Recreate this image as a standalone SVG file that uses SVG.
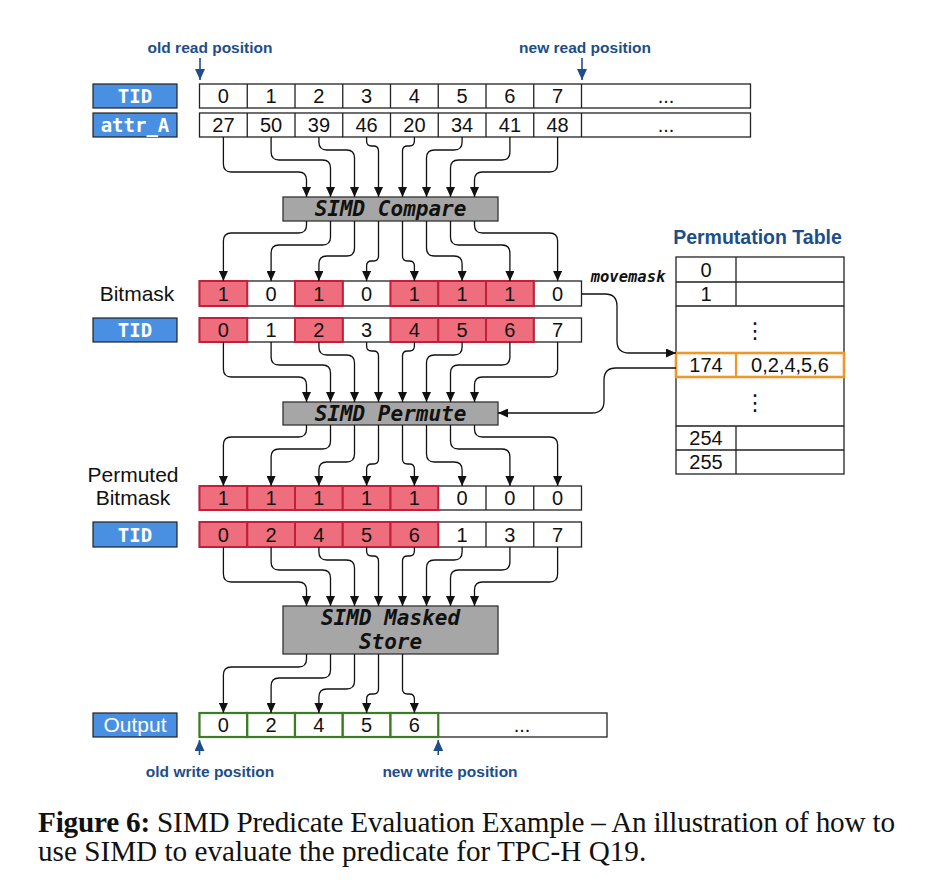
<svg xmlns="http://www.w3.org/2000/svg" width="940" height="894" viewBox="0 0 940 894">
<style>
.bg{fill:#ffffff}
.cell{fill:#ffffff;stroke:#222;stroke-width:1.3}
.div{stroke:#222;stroke-width:1.3}
.red{fill:#ee6e7d;stroke:#c41e3a;stroke-width:2}
.grn{fill:#ffffff;stroke:#3a7d22;stroke-width:2.2}
.lbl{fill:#4a90e2;stroke:#222;stroke-width:1.2}
.lt{font-family:"DejaVu Sans Mono",monospace;font-weight:bold;font-size:19px;fill:#ffffff;text-anchor:middle}
.num{font-family:"Liberation Sans",Arial,sans-serif;font-size:20px;fill:#111;text-anchor:middle}
.side{font-family:"Liberation Sans",Arial,sans-serif;font-size:21px;fill:#111;text-anchor:middle}
.op{fill:#a6a6a6;stroke:#333;stroke-width:1.3}
.opt{font-family:"DejaVu Sans Mono",monospace;font-weight:bold;font-style:italic;font-size:21px;fill:#111;text-anchor:middle}
.nav{font-family:"Liberation Sans",Arial,sans-serif;font-weight:bold;font-size:15.5px;fill:#1d4e89;text-anchor:middle}
.con path{fill:none;stroke:#111;stroke-width:1.3;marker-end:url(#ah)}
.pos{stroke:#1d4e89;stroke-width:1.6;marker-end:url(#nh)}
.cap{font-family:"Liberation Serif","Times New Roman",serif;font-size:29.2px;fill:#111}
</style>
<defs>
<marker id="ah" markerUnits="userSpaceOnUse" markerWidth="10" markerHeight="9" refX="10" refY="4.5" orient="auto"><path d="M0,0 L10,4.5 L0,9 z" fill="#111"/></marker>
<marker id="nh" markerUnits="userSpaceOnUse" markerWidth="11" markerHeight="10" refX="11" refY="5" orient="auto"><path d="M0,0 L11,5 L0,10 z" fill="#1d4e89"/></marker>
</defs>
<rect class="bg" x="0" y="0" width="940" height="894"/>

<g id="read-markers">
<text class="nav" x="210" y="53">old read position</text>
<line class="pos" x1="200" y1="58" x2="200" y2="80"/>
<text class="nav" x="585" y="53">new read position</text>
<line class="pos" x1="582" y1="58" x2="582" y2="80"/>
</g>

<g id="tid-top">
<rect class="lbl" x="93" y="84" width="84" height="24"/>
<text class="lt" x="135" y="103">TID</text>
<rect class="cell" x="199.5" y="84" width="551" height="24"/>
<path class="div" d="M247.25 84V108M295 84V108M342.75 84V108M390.5 84V108M438.25 84V108M486 84V108M533.75 84V108M581.5 84V108"/>
<text class="num" x="223.4" y="103">0</text><text class="num" x="271.1" y="103">1</text><text class="num" x="318.9" y="103">2</text><text class="num" x="366.6" y="103">3</text><text class="num" x="414.4" y="103">4</text><text class="num" x="462.1" y="103">5</text><text class="num" x="509.9" y="103">6</text><text class="num" x="557.6" y="103">7</text>
<text class="num" x="666" y="103">...</text>
</g>

<g id="attr-a">
<rect class="lbl" x="93" y="113" width="84" height="24"/>
<text class="lt" x="135" y="132">attr_A</text>
<rect class="cell" x="199.5" y="113" width="551" height="24"/>
<path class="div" d="M247.25 113V137M295 113V137M342.75 113V137M390.5 113V137M438.25 113V137M486 113V137M533.75 113V137M581.5 113V137"/>
<text class="num" x="223.4" y="132">27</text><text class="num" x="271.1" y="132">50</text><text class="num" x="318.9" y="132">39</text><text class="num" x="366.6" y="132">46</text><text class="num" x="414.4" y="132">20</text><text class="num" x="462.1" y="132">34</text><text class="num" x="509.9" y="132">41</text><text class="num" x="557.6" y="132">48</text>
<text class="num" x="666" y="132">...</text>
</g>

<g id="simd-compare">
<rect class="op" x="283" y="197" width="215" height="24"/>
<text class="opt" x="390.5" y="216">SIMD Compare</text>
</g>

<g id="bitmask">
<text class="side" x="137" y="301">Bitmask</text>
<rect class="cell" x="199.5" y="281" width="382" height="25"/>
<path class="div" d="M247.25 281V306M295 281V306M342.75 281V306M390.5 281V306M438.25 281V306M486 281V306M533.75 281V306"/>
<rect class="red" x="199.5" y="281" width="47.75" height="25"/>
<rect class="red" x="295" y="281" width="47.75" height="25"/>
<rect class="red" x="390.5" y="281" width="47.75" height="25"/>
<rect class="red" x="438.25" y="281" width="47.75" height="25"/>
<rect class="red" x="486" y="281" width="47.75" height="25"/>
<text class="num" x="223.4" y="300.5">1</text><text class="num" x="271.1" y="300.5">0</text><text class="num" x="318.9" y="300.5">1</text><text class="num" x="366.6" y="300.5">0</text><text class="num" x="414.4" y="300.5">1</text><text class="num" x="462.1" y="300.5">1</text><text class="num" x="509.9" y="300.5">1</text><text class="num" x="557.6" y="300.5">0</text>
</g>

<g id="tid-mid">
<rect class="lbl" x="93" y="318" width="84" height="24"/>
<text class="lt" x="135" y="337">TID</text>
<rect class="cell" x="199.5" y="318" width="382" height="24"/>
<path class="div" d="M247.25 318V342M295 318V342M342.75 318V342M390.5 318V342M438.25 318V342M486 318V342M533.75 318V342"/>
<rect class="red" x="199.5" y="318" width="47.75" height="24"/>
<rect class="red" x="295" y="318" width="47.75" height="24"/>
<rect class="red" x="390.5" y="318" width="47.75" height="24"/>
<rect class="red" x="438.25" y="318" width="47.75" height="24"/>
<rect class="red" x="486" y="318" width="47.75" height="24"/>
<text class="num" x="223.4" y="337">0</text><text class="num" x="271.1" y="337">1</text><text class="num" x="318.9" y="337">2</text><text class="num" x="366.6" y="337">3</text><text class="num" x="414.4" y="337">4</text><text class="num" x="462.1" y="337">5</text><text class="num" x="509.9" y="337">6</text><text class="num" x="557.6" y="337">7</text>
</g>

<g id="perm-table">
<text class="nav" x="757.5" y="244" style="font-size:19.5px">Permutation Table</text>
<rect class="cell" x="676" y="257" width="168" height="217"/>
<path class="div" d="M676 282H844M676 306H844M676 353H844M676 377H844M676 426H844M676 450H844M736 257V306M736 353V377M736 426V474"/>
<text class="num" x="706" y="276.5">0</text>
<text class="num" x="706" y="301">1</text>
<text class="num" x="755" y="338" style="font-family:'DejaVu Sans',sans-serif;font-size:22px">⋮</text>
<rect x="676" y="353" width="168" height="24" fill="none" stroke="#f0962a" stroke-width="2.6"/>
<line x1="736" y1="353" x2="736" y2="377" stroke="#f0962a" stroke-width="2.2"/>
<text class="num" x="706" y="372">174</text>
<text class="num" x="790" y="372">0,2,4,5,6</text>
<text class="num" x="755" y="410" style="font-family:'DejaVu Sans',sans-serif;font-size:22px">⋮</text>
<text class="num" x="706" y="445">254</text>
<text class="num" x="706" y="469">255</text>
</g>

<g id="movemask-label">
<text class="opt" x="628" y="282" style="font-size:15.5px">movemask</text>
</g>

<g id="simd-permute">
<rect class="op" x="283" y="402" width="215" height="23"/>
<text class="opt" x="390.5" y="420.5">SIMD Permute</text>
</g>

<g id="permuted-bitmask">
<text class="side" x="133" y="482">Permuted</text>
<text class="side" x="133" y="505">Bitmask</text>
<rect class="cell" x="199.5" y="486" width="382" height="24"/>
<path class="div" d="M486 486V510M533.75 486V510"/>
<rect class="red" x="199.5" y="486" width="47.75" height="24"/>
<rect class="red" x="247.25" y="486" width="47.75" height="24"/>
<rect class="red" x="295" y="486" width="47.75" height="24"/>
<rect class="red" x="342.75" y="486" width="47.75" height="24"/>
<rect class="red" x="390.5" y="486" width="47.75" height="24"/>
<text class="num" x="223.4" y="505">1</text><text class="num" x="271.1" y="505">1</text><text class="num" x="318.9" y="505">1</text><text class="num" x="366.6" y="505">1</text><text class="num" x="414.4" y="505">1</text><text class="num" x="462.1" y="505">0</text><text class="num" x="509.9" y="505">0</text><text class="num" x="557.6" y="505">0</text>
</g>

<g id="tid-permuted">
<rect class="lbl" x="93" y="522" width="84" height="25"/>
<text class="lt" x="135" y="541.5">TID</text>
<rect class="cell" x="199.5" y="522" width="382" height="25"/>
<path class="div" d="M486 522V547M533.75 522V547"/>
<rect class="red" x="199.5" y="522" width="47.75" height="25"/>
<rect class="red" x="247.25" y="522" width="47.75" height="25"/>
<rect class="red" x="295" y="522" width="47.75" height="25"/>
<rect class="red" x="342.75" y="522" width="47.75" height="25"/>
<rect class="red" x="390.5" y="522" width="47.75" height="25"/>
<text class="num" x="223.4" y="541.5">0</text><text class="num" x="271.1" y="541.5">2</text><text class="num" x="318.9" y="541.5">4</text><text class="num" x="366.6" y="541.5">5</text><text class="num" x="414.4" y="541.5">6</text><text class="num" x="462.1" y="541.5">1</text><text class="num" x="509.9" y="541.5">3</text><text class="num" x="557.6" y="541.5">7</text>
</g>

<g id="simd-masked-store">
<rect class="op" x="283" y="606" width="215" height="48"/>
<text class="opt" x="390.5" y="625">SIMD Masked</text>
<text class="opt" x="390.5" y="649">Store</text>
</g>

<g id="output">
<rect class="lbl" x="93" y="713" width="84" height="24"/>
<text class="side" x="135" y="732" style="fill:#fff">Output</text>
<rect class="cell" x="199.5" y="713" width="407.5" height="24"/>
<rect class="grn" x="199.5" y="713" width="47.75" height="24"/>
<rect class="grn" x="247.25" y="713" width="47.75" height="24"/>
<rect class="grn" x="295" y="713" width="47.75" height="24"/>
<rect class="grn" x="342.75" y="713" width="47.75" height="24"/>
<rect class="grn" x="390.5" y="713" width="47.75" height="24"/>
<text class="num" x="223.4" y="732">0</text><text class="num" x="271.1" y="732">2</text><text class="num" x="318.9" y="732">4</text><text class="num" x="366.6" y="732">5</text><text class="num" x="414.4" y="732">6</text>
<text class="num" x="522" y="732">...</text>
</g>

<g id="write-markers">
<line class="pos" x1="199.5" y1="755" x2="199.5" y2="740"/>
<text class="nav" x="210" y="777">old write position</text>
<line class="pos" x1="438.25" y1="755" x2="438.25" y2="740"/>
<text class="nav" x="450" y="777">new write position</text>
</g>

<g id="connectors" class="con">
<g id="cA">
<path d="M223.4 137V164Q223.4 172 231.4 172H298.5Q306.5 172 306.5 180V197"/>
<path d="M271.1 137V152Q271.1 160 279.1 160H322.5Q330.5 160 330.5 168V197"/>
<path d="M318.9 137V142Q318.9 150 326.9 150H346.5Q354.5 150 354.5 158V197"/>
<path d="M366.6 137V141Q366.6 146 371.6 146H373.5Q378.5 146 378.5 151V197"/>
<path d="M414.4 137V141Q414.4 146 409.4 146H407.5Q402.5 146 402.5 151V197"/>
<path d="M462.1 137V142Q462.1 150 454.1 150H434.5Q426.5 150 426.5 158V197"/>
<path d="M509.9 137V152Q509.9 160 501.9 160H458.5Q450.5 160 450.5 168V197"/>
<path d="M557.6 137V164Q557.6 172 549.6 172H482.5Q474.5 172 474.5 180V197"/>
</g>
<g id="cB">
<path d="M306.5 221V225Q306.5 233 298.5 233H231.4Q223.4 233 223.4 241V281"/>
<path d="M330.5 221V237Q330.5 245 322.5 245H279.1Q271.1 245 271.1 253V281"/>
<path d="M354.5 221V248Q354.5 256 346.5 256H326.9Q318.9 256 318.9 264V281"/>
<path d="M378.5 221V256Q378.5 261 373.5 261H371.6Q366.6 261 366.6 266V281"/>
<path d="M402.5 221V256Q402.5 261 407.5 261H409.4Q414.4 261 414.4 266V281"/>
<path d="M426.5 221V248Q426.5 256 434.5 256H454.1Q462.1 256 462.1 264V281"/>
<path d="M450.5 221V237Q450.5 245 458.5 245H501.9Q509.9 245 509.9 253V281"/>
<path d="M474.5 221V225Q474.5 233 482.5 233H549.6Q557.6 233 557.6 241V281"/>
</g>
<g transform="translate(0,205)">
<path d="M223.4 137V164Q223.4 172 231.4 172H298.5Q306.5 172 306.5 180V197"/>
<path d="M271.1 137V152Q271.1 160 279.1 160H322.5Q330.5 160 330.5 168V197"/>
<path d="M318.9 137V142Q318.9 150 326.9 150H346.5Q354.5 150 354.5 158V197"/>
<path d="M366.6 137V141Q366.6 146 371.6 146H373.5Q378.5 146 378.5 151V197"/>
<path d="M414.4 137V141Q414.4 146 409.4 146H407.5Q402.5 146 402.5 151V197"/>
<path d="M462.1 137V142Q462.1 150 454.1 150H434.5Q426.5 150 426.5 158V197"/>
<path d="M509.9 137V152Q509.9 160 501.9 160H458.5Q450.5 160 450.5 168V197"/>
<path d="M557.6 137V164Q557.6 172 549.6 172H482.5Q474.5 172 474.5 180V197"/>
</g>
<g transform="translate(0,204)">
<path d="M306.5 221V225Q306.5 233 298.5 233H231.4Q223.4 233 223.4 241V282"/>
<path d="M330.5 221V237Q330.5 245 322.5 245H279.1Q271.1 245 271.1 253V282"/>
<path d="M354.5 221V250Q354.5 258 346.5 258H326.9Q318.9 258 318.9 266V282"/>
<path d="M378.5 221V255Q378.5 260 373.5 260H371.6Q366.6 260 366.6 265V282"/>
<path d="M402.5 221V255Q402.5 260 407.5 260H409.4Q414.4 260 414.4 265V282"/>
<path d="M426.5 221V250Q426.5 258 434.5 258H454.1Q462.1 258 462.1 266V282"/>
<path d="M450.5 221V237Q450.5 245 458.5 245H501.9Q509.9 245 509.9 253V282"/>
<path d="M474.5 221V225Q474.5 233 482.5 233H549.6Q557.6 233 557.6 241V282"/>
</g>
<g transform="translate(0,410)">
<path d="M223.4 137V164Q223.4 172 231.4 172H298.5Q306.5 172 306.5 180V196"/>
<path d="M271.1 137V152Q271.1 160 279.1 160H322.5Q330.5 160 330.5 168V196"/>
<path d="M318.9 137V142Q318.9 150 326.9 150H346.5Q354.5 150 354.5 158V196"/>
<path d="M366.6 137V141Q366.6 146 371.6 146H373.5Q378.5 146 378.5 151V196"/>
<path d="M414.4 137V141Q414.4 146 409.4 146H407.5Q402.5 146 402.5 151V196"/>
<path d="M462.1 137V142Q462.1 150 454.1 150H434.5Q426.5 150 426.5 158V196"/>
<path d="M509.9 137V152Q509.9 160 501.9 160H458.5Q450.5 160 450.5 168V196"/>
<path d="M557.6 137V164Q557.6 172 549.6 172H482.5Q474.5 172 474.5 180V196"/>
</g>
<path d="M306.5 654V659Q306.5 667 298.5 667H231.4Q223.4 667 223.4 675V713"/>
<path d="M330.5 654V670Q330.5 678 322.5 678H279.1Q271.1 678 271.1 686V713"/>
<path d="M354.5 654V681Q354.5 689 346.5 689H326.9Q318.9 689 318.9 697V713"/>
<path d="M378.5 654V689Q378.5 694 373.5 694H371.6Q366.6 694 366.6 699V713"/>
<path d="M402.5 654V689Q402.5 694 407.5 694H409.4Q414.4 694 414.4 699V713"/>
<path d="M581.5 294H605Q617 294 617 306V341Q617 353 629 353H676"/>
<path d="M676 368H616Q604 368 604 380V401Q604 413 592 413H498"/>
</g>

<g id="caption">
<text class="cap" x="38" y="832" textLength="857" lengthAdjust="spacing"><tspan font-weight="bold">Figure 6:</tspan> SIMD Predicate Evaluation Example – An illustration of how to</text>
<text class="cap" x="38" y="861">use SIMD to evaluate the predicate for TPC-H Q19.</text>
</g>
</svg>
